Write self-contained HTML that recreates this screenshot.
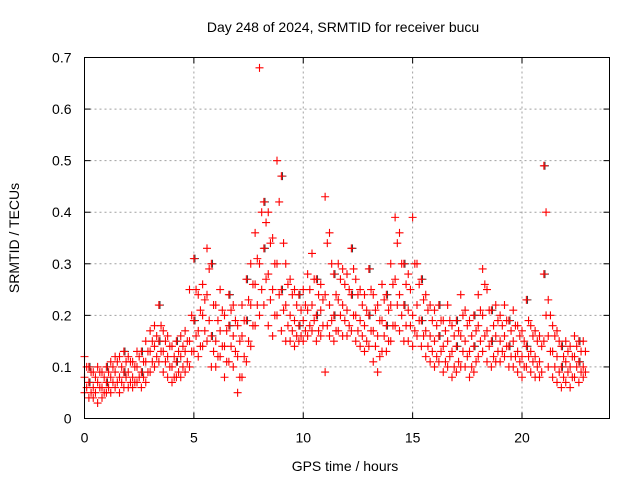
<!DOCTYPE html>
<html><head><meta charset="utf-8"><style>
html,body{margin:0;padding:0;background:#fff;}
svg{display:block;font-family:"Liberation Sans",sans-serif;}
</style></head><body>
<svg id="chart" width="640" height="480" viewBox="0 0 640 480">
<text x="343" y="32" font-size="14" text-anchor="middle">Day 248 of 2024, SRMTID for receiver bucu</text>
<text transform="translate(19,238) rotate(-90)" font-size="14" text-anchor="middle">SRMTID / TECUs</text>
<text x="345" y="471" font-size="14" text-anchor="middle">GPS time / hours</text>
<g id="grid"></g>
<g id="ticks"></g>
<g id="marks"></g>
<rect x="84.5" y="57.5" width="525" height="361" fill="none" stroke="#000" stroke-width="1"/>
</svg>
<script>
const xTicks=[0,5,10,15,20];
const yTicks=[0,0.1,0.2,0.3,0.4,0.5,0.6,0.7];
const yTickLabels=["0","0.1","0.2","0.3","0.4","0.5","0.6","0.7"];
const tStep=0.2;
const seriesMid=[0.08,0.07,0.06,0.07,0.06,0.07,0.08,0.09,0.08,0.09,0.09,0.08,0.10,0.09,0.11,0.13,0.14,0.15,0.13,0.12,0.10,0.11,0.12,0.13,0.15,0.19,0.17,0.20,0.24,0.16,0.15,0.17,0.14,0.18,0.16,0.12,0.16,0.19,0.22,0.26,0.30,0.33,0.28,0.25,0.30,0.25,0.22,0.20,0.19,0.18,0.19,0.21,0.22,0.20,0.21,0.24,0.22,0.20,0.23,0.22,0.21,0.24,0.20,0.19,0.18,0.20,0.17,0.16,0.19,0.18,0.22,0.27,0.24,0.22,0.21,0.20,0.22,0.19,0.17,0.16,0.15,0.16,0.14,0.15,0.13,0.14,0.16,0.15,0.13,0.14,0.18,0.20,0.17,0.15,0.16,0.15,0.16,0.14,0.15,0.13,0.12,0.14,0.13,0.12,0.11,0.28,0.16,0.13,0.12,0.10,0.11,0.10,0.12,0.11,0.10];
const seriesLow=[0.05,0.04,0.04,0.03,0.04,0.05,0.05,0.06,0.05,0.06,0.06,0.06,0.07,0.06,0.07,0.09,0.10,0.11,0.09,0.08,0.07,0.08,0.08,0.09,0.10,0.13,0.12,0.14,0.15,0.10,0.10,0.12,0.08,0.11,0.10,0.05,0.08,0.11,0.14,0.18,0.20,0.22,0.18,0.16,0.20,0.17,0.15,0.15,0.14,0.15,0.15,0.16,0.17,0.15,0.16,0.09,0.16,0.15,0.17,0.16,0.16,0.17,0.15,0.14,0.13,0.14,0.11,0.09,0.13,0.13,0.15,0.18,0.17,0.15,0.15,0.14,0.16,0.14,0.12,0.11,0.10,0.11,0.09,0.10,0.08,0.09,0.10,0.10,0.08,0.09,0.12,0.13,0.11,0.10,0.11,0.11,0.12,0.10,0.10,0.09,0.08,0.10,0.09,0.08,0.08,0.15,0.10,0.08,0.07,0.06,0.07,0.06,0.08,0.07,0.08];
const seriesHigh=[0.12,0.10,0.09,0.10,0.09,0.10,0.11,0.12,0.12,0.13,0.12,0.11,0.13,0.13,0.15,0.17,0.18,0.22,0.17,0.16,0.14,0.15,0.16,0.17,0.25,0.31,0.24,0.26,0.33,0.30,0.22,0.25,0.20,0.24,0.22,0.18,0.22,0.27,0.30,0.36,0.68,0.42,0.40,0.35,0.50,0.47,0.30,0.27,0.25,0.24,0.25,0.28,0.32,0.27,0.26,0.43,0.36,0.28,0.30,0.29,0.28,0.33,0.27,0.25,0.24,0.29,0.24,0.22,0.26,0.24,0.30,0.39,0.36,0.30,0.28,0.39,0.30,0.27,0.24,0.22,0.21,0.22,0.19,0.22,0.18,0.19,0.24,0.21,0.19,0.20,0.24,0.29,0.25,0.21,0.22,0.20,0.22,0.19,0.21,0.18,0.17,0.23,0.18,0.17,0.16,0.49,0.23,0.18,0.17,0.14,0.15,0.14,0.16,0.15,0.15];
const seriesQ1=[0.06,0.05,0.05,0.06,0.05,0.06,0.07,0.07,0.07,0.08,0.07,0.07,0.08,0.08,0.09,0.11,0.12,0.13,0.11,0.10,0.08,0.09,0.10,0.11,0.13,0.16,0.14,0.17,0.19,0.13,0.12,0.14,0.11,0.14,0.13,0.08,0.12,0.15,0.18,0.22,0.25,0.27,0.23,0.20,0.24,0.21,0.18,0.17,0.16,0.16,0.17,0.18,0.19,0.17,0.18,0.18,0.19,0.17,0.20,0.19,0.18,0.20,0.17,0.16,0.15,0.17,0.14,0.12,0.16,0.15,0.18,0.22,0.20,0.18,0.18,0.17,0.19,0.16,0.14,0.13,0.12,0.13,0.11,0.12,0.10,0.11,0.13,0.12,0.10,0.11,0.15,0.16,0.14,0.12,0.13,0.13,0.14,0.12,0.12,0.11,0.10,0.12,0.11,0.10,0.09,0.20,0.13,0.10,0.09,0.08,0.09,0.08,0.10,0.09,0.09];
const seriesQ3=[0.10,0.09,0.08,0.09,0.08,0.09,0.10,0.11,0.10,0.11,0.11,0.10,0.12,0.11,0.13,0.15,0.16,0.18,0.15,0.14,0.12,0.13,0.14,0.15,0.20,0.25,0.21,0.23,0.29,0.22,0.19,0.21,0.17,0.21,0.19,0.15,0.19,0.23,0.26,0.31,0.40,0.38,0.34,0.30,0.42,0.34,0.26,0.24,0.22,0.21,0.22,0.25,0.27,0.24,0.23,0.34,0.30,0.24,0.27,0.26,0.25,0.29,0.24,0.22,0.21,0.25,0.21,0.19,0.23,0.21,0.26,0.34,0.30,0.26,0.25,0.30,0.26,0.23,0.21,0.19,0.18,0.19,0.17,0.19,0.16,0.17,0.20,0.18,0.16,0.17,0.21,0.26,0.21,0.18,0.19,0.18,0.19,0.17,0.18,0.16,0.15,0.19,0.16,0.15,0.14,0.40,0.20,0.16,0.15,0.12,0.13,0.12,0.14,0.13,0.13];
const X0=84.5,X1=609.5,Y0=418.5,Y1=57.5,XMAX=24,YMAX=0.7;
const xs=v=>X0+(X1-X0)*v/XMAX;
const ys=v=>Y0-(Y0-Y1)*v/YMAX;
const NS="http://www.w3.org/2000/svg";
const grid=document.getElementById('grid'),ticks=document.getElementById('ticks'),marks=document.getElementById('marks');
function mk(tag,attrs,parent){const e=document.createElementNS(NS,tag);for(const k in attrs)e.setAttribute(k,attrs[k]);parent.appendChild(e);return e;}
xTicks.forEach(v=>{
  const x=xs(v);
  if(v>0){const g=mk('line',{x1:x,x2:x,y1:Y0,y2:Y1,stroke:'#a0a0a0','stroke-dasharray':'2,3'},grid);
  
  }
  const t=mk('line',{x1:x,x2:x,y1:Y0,y2:Y0-6,stroke:'#000'},ticks);
  
  
  const t2=mk('line',{x1:x,x2:x,y1:Y1,y2:Y1+6,stroke:'#000'},ticks);
  
  
  const l=mk('text',{x:x,y:Y0+24,'font-size':14,'text-anchor':'middle'},ticks);l.textContent=String(v);
  
  
});
yTicks.forEach((v,i)=>{
  const y=ys(v);
  if(v>0&&v<YMAX){const g=mk('line',{x1:X0,x2:X1,y1:y,y2:y,stroke:'#a0a0a0','stroke-dasharray':'2,3'},grid);
  
  }
  const t=mk('line',{x1:X0,x2:X0+6,y1:y,y2:y,stroke:'#000'},ticks);
  
  
  const t2=mk('line',{x1:X1,x2:X1-6,y1:y,y2:y,stroke:'#000'},ticks);
  
  
  const l=mk('text',{x:X0-13,y:y+5,'font-size':14,'text-anchor':'end'},ticks);l.textContent=yTickLabels[i];
  
  
});
function plus(t,v,color){
  const x=xs(t),y=ys(v);
  const p=mk('path',{d:`M${x-4},${y}H${x+4}M${x},${y-4}V${y+4}`,stroke:color,'stroke-width':1.1,fill:'none'},marks);
  
  
}
[seriesHigh,seriesMid].forEach(s=>s.forEach((v,i)=>{ if(i%4===1) plus(i*tStep+0.05,v,'#404040'); }));
[seriesLow,seriesMid,seriesHigh].forEach(s=>s.forEach((v,i)=>plus(i*tStep,v,'#ff0000')));
[seriesQ1,seriesQ3].forEach(s=>s.forEach((v,i)=>plus(i*tStep+0.1,v,'#ff0000')));
</script>
</body></html>
